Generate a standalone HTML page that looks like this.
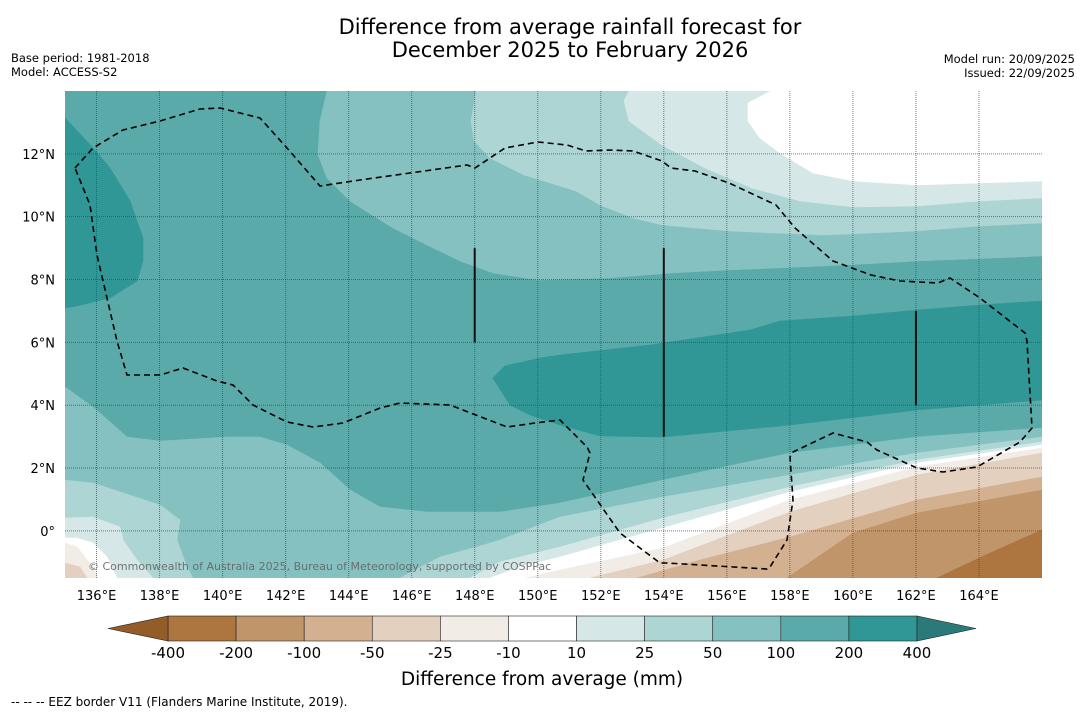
<!DOCTYPE html>
<html><head><meta charset="utf-8"><style>
body{margin:0;background:#fff;}
svg{display:block;font-family:"DejaVu Sans","Liberation Sans",sans-serif;}
</style></head><body>
<svg id="chart" width="1085" height="713" viewBox="0 0 1085 713" xmlns="http://www.w3.org/2000/svg">
<rect width="1085" height="713" fill="#fff"/>
<text x="570" y="34" font-size="21" text-anchor="middle">Difference from average rainfall forecast for</text>
<text x="570" y="57" font-size="21" text-anchor="middle">December 2025 to February 2026</text>
<text x="11" y="62" font-size="11.5">Base period: 1981-2018</text>
<text x="11" y="76" font-size="11.5">Model: ACCESS-S2</text>
<text x="1075" y="63" font-size="11.5" text-anchor="end">Model run: 20/09/2025</text>
<text x="1075" y="77" font-size="11.5" text-anchor="end">Issued: 22/09/2025</text>
<defs><clipPath id="mapclip"><rect x="65" y="91" width="977" height="487"/></clipPath></defs>
<g id="map" clip-path="url(#mapclip)"></g>
<g id="axes"></g>
<g id="cbar"></g>
<text x="542" y="685" font-size="18.5" text-anchor="middle">Difference from average (mm)</text>
<text x="11" y="706" font-size="12">--  --  -- EEZ border V11 (Flanders Marine Institute, 2019).</text>
</svg>
<script>
// axis ticks
const lonTicks = [136,138,140,142,144,146,148,150,152,154,156,158,160,162,164];
const latTicks = [0,2,4,6,8,10,12];
const latLabels = ["0°","2°N","4°N","6°N","8°N","10°N","12°N"];
// colorbar
const cbarLevels = ["-400","-200","-100","-50","-25","-10","10","25","50","100","200","400"];
const cbarColors = ["#ad7540","#c0956a","#d3b08f","#e4d0bf","#f2ece7","#ffffff","#d5e8e7","#acd5d4","#85c1c0","#5aaaa9","#309796"];
const cbarExtendLow = "#935c29", cbarExtendHigh = "#2a7a79";
// map extent
const lonMin = 135, lonMax = 166, latMin = -1.5, latMax = 14;
const X0 = 65, X1 = 1042, Y0 = 91, Y1 = 578;
function xs(lon){return X0 + (lon-lonMin)/(lonMax-lonMin)*(X1-X0);}
function ys(lat){return Y1 - (lat-latMin)/(latMax-latMin)*(Y1-Y0);}
// contour regions (map pixel outlines), drawn in order
const regions = [
 ["contour-100-200-base","#5aaaa9",[[65,91],[1042,91],[1042,578],[65,578]]],
 ["contour-50-100-north","#85c1c0",[[327,91],[320,121],[318,155],[327,178],[350,201],[393,228],[427,245],[460,261],[493,273],[538,280],[610,278],[671,273],[729,270],[824,266],[919,261],[1042,256],[1042,91]]],
 ["contour-25-50-north","#acd5d4",[[476,91],[471,121],[474,141],[490,158],[524,175],[576,191],[600,205],[633,218],[662,225],[729,231],[824,235],[917,231],[980,226],[1042,223],[1042,91]]],
 ["contour-10-25-north","#d5e8e7",[[629,91],[624,101],[629,121],[662,145],[705,168],[752,188],[800,201],[853,207],[917,206],[980,201],[1042,198],[1042,91]]],
 ["contour-neutral-north","#ffffff",[[771,91],[748,103],[748,121],[760,138],[780,153],[813,173],[853,181],[917,185],[980,183],[1042,181],[1042,91]]],
 ["contour-200-400-west","#309796",[[65,118],[93,148],[110,168],[130,201],[143,238],[143,261],[137,281],[110,298],[77,306],[65,308]]],
 ["contour-200-400-central","#309796",[[493,378],[505,366],[540,358],[560,355],[650,345],[750,330],[780,321],[853,316],[917,310],[980,305],[1042,301],[1042,400],[917,410],[790,425],[663,437],[600,436],[560,425],[530,415],[510,405]]],
 ["contour-50-100-south","#85c1c0",[[65,387],[93,407],[127,437],[160,441],[227,437],[260,437],[287,445],[320,463],[350,490],[380,507],[427,512],[500,512],[560,503],[663,480],[790,453],[917,437],[1042,428],[1042,578],[65,578]]],
 ["contour-25-50-southwest","#acd5d4",[[65,480],[93,483],[160,505],[180,520],[177,540],[187,567],[193,578],[65,578]]],
 ["contour-10-25-southwest","#d5e8e7",[[65,518],[93,517],[120,527],[123,540],[137,560],[153,578],[65,578]]],
 ["contour-neutral-southwest","#ffffff",[[65,538],[77,538],[93,543],[107,557],[117,578],[65,578]]],
 ["contour-minus25-southwest","#f2ece7",[[65,543],[77,547],[93,567],[98,578],[65,578]]],
 ["contour-minus50-southwest","#e4d0bf",[[65,563],[80,567],[87,578],[65,578]]],
 ["contour-25-50-south","#acd5d4",[[400,578],[440,557],[480,546],[500,540],[560,517],[663,497],[790,475],[917,453],[1042,437],[1042,578]]],
 ["contour-10-25-south","#d5e8e7",[[470,578],[500,562],[560,547],[663,518],[790,487],[917,460],[1042,442],[1042,578]]],
 ["contour-neutral-south","#ffffff",[[490,578],[520,567],[560,557],[663,528],[790,492],[917,463],[1042,445],[1042,578]]],
 ["contour-minus10-25-south","#f2ece7",[[525,578],[560,570],[663,548],[790,500],[917,467],[1042,448],[1042,578]]],
 ["contour-minus25-50-south","#e4d0bf",[[590,578],[663,560],[790,512],[917,475],[1042,453],[1042,578]]],
 ["contour-minus50-100-south","#d3b08f",[[637,578],[700,560],[790,537],[917,500],[1042,477],[1042,578]]],
 ["contour-minus100-200-south","#c0956a",[[787,578],[853,533],[917,513],[1042,490],[1042,578]]],
 ["contour-minus200-400-south","#ad7540",[[937,578],[990,553],[1042,530],[1042,578]]]
];
const eez = [[75,168],[93,148],[123,130],[160,121],[200,109],[220,108],[260,118],[287,148],[320,186],[360,180],[410,173],[467,165],[475,168],[505,148],[538,142],[567,145],[586,151],[610,150],[633,151],[662,161],[671,168],[695,171],[729,183],[776,205],[795,228],[833,261],[871,275],[900,281],[938,283],[950,278],[980,298],[1025,333],[1027,341],[1032,428],[1020,442],[977,467],[943,472],[917,468],[877,450],[867,442],[833,433],[793,452],[790,457],[793,500],[787,540],[770,567],[767,569],[667,563],[660,563],[620,533],[583,480],[590,453],[587,447],[560,420],[535,423],[507,427],[450,405],[400,403],[380,408],[343,423],[313,427],[287,422],[253,405],[233,385],[217,381],[183,368],[160,375],[127,375],[117,341],[97,255],[90,205],[75,168]];
const segLines = [[148,9,6],[154,9,3],[162,7,4]]; // lon, lat top, lat bottom

const NS="http://www.w3.org/2000/svg";
function mk(tag,attrs,parent){const e=document.createElementNS(NS,tag);for(const k in attrs)e.setAttribute(k,attrs[k]);parent.appendChild(e);return e;}
const map=document.getElementById('map'), axes=document.getElementById('axes'), cbar=document.getElementById('cbar');
regions.forEach(r=>{
  const p=mk('polygon',{points:r[2].map(q=>q.join(',')).join(' '),fill:r[1],stroke:r[1],'stroke-width':0.6},map);
  
  
});
lonTicks.forEach(l=>{
  const g=mk('line',{x1:xs(l),x2:xs(l),y1:Y0,y2:Y1,stroke:'#444','stroke-width':1,'stroke-dasharray':'1,1','stroke-opacity':0.7},map);
  
  
  const t=mk('text',{x:xs(l),y:600,'font-size':13,'text-anchor':'middle'},axes);
  t.textContent=l+'°E';
  
  
});
latTicks.forEach((l,i)=>{
  const g=mk('line',{x1:X0,x2:X1,y1:ys(l),y2:ys(l),stroke:'#444','stroke-width':1,'stroke-dasharray':'1,1','stroke-opacity':0.7},map);
  
  
  const t=mk('text',{x:55,y:ys(l)+5,'font-size':13,'text-anchor':'end'},axes);
  t.textContent=latLabels[i];
  
  
});
const ez=mk('polyline',{points:eez.map(q=>q.join(',')).join(' '),fill:'none',stroke:'#000','stroke-width':1.6,'stroke-dasharray':'6,4'},map);


segLines.forEach(s=>{
  const l=mk('line',{x1:xs(s[0]),x2:xs(s[0]),y1:ys(s[1]),y2:ys(s[2]),stroke:'#111','stroke-width':2},map);
  
  
});
const cp=mk('text',{x:88,y:570,'font-size':11,fill:'#666','fill-opacity':0.9},map);
cp.textContent='© Commonwealth of Australia 2025, Bureau of Meteorology, supported by COSPPac';


// colorbar
const CB0=168, CB1=917, CBY=616, CBH=25, n=cbarColors.length, bw=(CB1-CB0)/n;
cbarColors.forEach((c,i)=>{
  const r=mk('rect',{x:CB0+i*bw,y:CBY,width:bw,height:CBH,fill:c,stroke:'#222','stroke-width':0.6},cbar);
  
  
});
const tl=mk('polygon',{points:`${CB0},${CBY} ${CB0},${CBY+CBH} 108,${CBY+CBH/2}`,fill:cbarExtendLow,stroke:'#222','stroke-width':0.6},cbar);


const tr=mk('polygon',{points:`${CB1},${CBY} ${CB1},${CBY+CBH} 976,${CBY+CBH/2}`,fill:cbarExtendHigh,stroke:'#222','stroke-width':0.6},cbar);


cbarLevels.forEach((v,i)=>{
  const t=mk('text',{x:CB0+i*bw,y:658,'font-size':15,'text-anchor':'middle'},cbar);
  t.textContent=v;
  
  
});
</script>
</body></html>
